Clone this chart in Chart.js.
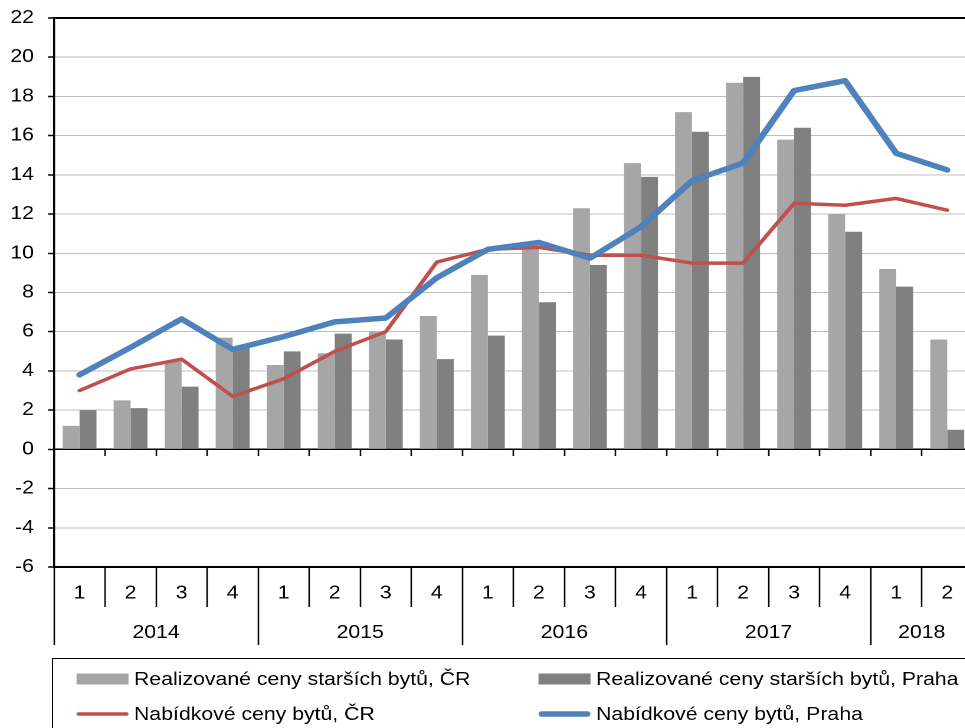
<!DOCTYPE html>
<html>
<head>
<meta charset="utf-8">
<script src="https://cdn.jsdelivr.net/npm/chart.js@4"></script>
<style>
html,body{margin:0;padding:0;overflow:hidden;background:#fff;width:965px;height:728px}
#wrap{position:absolute;left:0;top:0;height:728px;transform-origin:0 0}
</style>
</head>
<body>
<div id="wrap"><canvas id="c"></canvas></div>
<script>
// ---- data ----
const quarters = ['1','2','3','4','1','2','3','4','1','2','3','4','1','2','3','4','1','2'];
const quarterYears = ['2014','2014','2014','2014','2015','2015','2015','2015','2016','2016','2016','2016','2017','2017','2017','2017','2018','2018'];
const seriesNames = [
  'Realizované ceny starších bytů, ČR',
  'Realizované ceny starších bytů, Praha',
  'Nabídkové ceny bytů, ČR',
  'Nabídkové ceny bytů, Praha'
];
const realizedCR    = [1.2, 2.5, 4.5, 5.7, 4.3, 4.9, 6.0, 6.8, 8.9, 10.3, 12.3, 14.6, 17.2, 18.7, 15.8, 12.0, 9.2, 5.6];
const realizedPraha = [2.0, 2.1, 3.2, 5.2, 5.0, 5.9, 5.6, 4.6, 5.8, 7.5, 9.4, 13.9, 16.2, 19.0, 16.4, 11.1, 8.3, 1.0];
const offerCR       = [3.0, 4.1, 4.6, 2.7, 3.6, 5.0, 6.0, 9.55, 10.2, 10.3, 9.9, 9.9, 9.5, 9.5, 12.55, 12.45, 12.8, 12.2];
const offerPraha    = [3.8, 5.2, 6.65, 5.1, 5.75, 6.5, 6.7, 8.75, 10.2, 10.55, 9.75, 11.35, 13.7, 14.6, 18.3, 18.8, 15.1, 14.25];
const yMin = -6, yMax = 22, yStep = 2;

// ---- horizontal stretch of the whole figure (the reference is wider than tall in its glyphs) ----
const SX = 1.18;
const wrap = document.getElementById('wrap');
wrap.style.width = (976 / SX) + 'px';
wrap.style.transform = 'scaleX(' + SX + ')';

// ---- year grouping derived from the categories ----
const yearGroups = [];
quarterYears.forEach((y, i) => {
  const g = yearGroups[yearGroups.length - 1];
  if (g && g.year === y) g.last = i; else yearGroups.push({year: y, first: i, last: i});
});
const yearTickLabel = {};
const yearBoundary = {};
const yearTicks = [];
yearGroups.forEach((g, k) => {
  if (k === 0) { yearTicks.push(g.first - 0.5); yearBoundary[g.first - 0.5] = true; }
  const c = (g.first + g.last) / 2;
  yearTicks.push(c); yearTickLabel[c] = g.year;
  yearTicks.push(g.last + 0.5); yearBoundary[g.last + 0.5] = true;
});

const FONT = {family: '"Liberation Sans", Arial, sans-serif', size: 18};

const legendPlugin = {
  id: 'boxLegend',
  afterDraw(chart) {
    const ctx = chart.ctx;
    const L = {left: 52.5 / SX, top: 658.5, colX: [76.5 / SX, 538.5 / SX], rowY: [679, 714],
               sw: 52 / SX, sh: 11, gap: 5.5 / SX};
    ctx.save();
    ctx.strokeStyle = '#000';
    ctx.lineWidth = 1;
    ctx.strokeRect(L.left, L.top, 2000, 300);
    ctx.font = FONT.size + 'px ' + FONT.family;
    ctx.textBaseline = 'middle';
    ctx.textAlign = 'left';
    chart.data.datasets.forEach((ds, i) => {
      const x = L.colX[i % 2], y = L.rowY[Math.floor(i / 2)];
      if (ds.type === 'line') {
        ctx.strokeStyle = ds.borderColor;
        ctx.lineWidth = ds.borderWidth;
        ctx.lineCap = 'round';
        ctx.beginPath();
        ctx.moveTo(x + ds.borderWidth / 2, y);
        ctx.lineTo(x + L.sw - ds.borderWidth / 2, y);
        ctx.stroke();
      } else {
        ctx.fillStyle = ds.backgroundColor;
        ctx.fillRect(x, y - L.sh / 2, L.sw, L.sh);
      }
      ctx.fillStyle = '#000';
      ctx.fillText(ds.label, x + L.sw + L.gap, y + 1);
    });
    ctx.restore();
  }
};

new Chart(document.getElementById('c'), {
  data: {
    labels: quarters,
    datasets: [
      {type: 'bar', label: seriesNames[0], data: realizedCR, backgroundColor: '#A6A6A6', order: 3,
       barPercentage: 1.0, categoryPercentage: 0.664},
      {type: 'bar', label: seriesNames[1], data: realizedPraha, backgroundColor: '#808080', order: 3,
       barPercentage: 1.0, categoryPercentage: 0.664},
      {type: 'line', label: seriesNames[2], data: offerCR, borderColor: '#C0504D', borderWidth: 3.5,
       pointRadius: 0, tension: 0, borderCapStyle: 'round', borderJoinStyle: 'round', order: 2},
      {type: 'line', label: seriesNames[3], data: offerPraha, borderColor: '#4F81BD', borderWidth: 5.5,
       pointRadius: 0, tension: 0, borderCapStyle: 'round', borderJoinStyle: 'round', order: 1}
    ]
  },
  options: {
    responsive: true,
    maintainAspectRatio: false,
    animation: false,
    devicePixelRatio: 2,
    layout: {padding: {top: 18, bottom: 83, left: 0, right: 0}},
    plugins: {legend: {display: false}, tooltip: {enabled: false}},
    scales: {
      y: {
        type: 'linear', min: yMin, max: yMax,
        ticks: {stepSize: yStep, padding: 11.9, font: FONT, color: '#000'},
        grid: {
          color: c => c.tick && c.tick.value === yMax ? '#000' : '#BEBEBE',
          lineWidth: c => c.tick && c.tick.value === yMax ? 2 : 1,
          tickColor: '#000', tickLength: 6 / SX, tickWidth: 1.5
        },
        border: {color: '#000', width: 1.7},
        afterFit: s => { s.width = 54 / SX; s.paddingTop = 0; s.paddingBottom = 0; }
      },
      x: {
        type: 'category', position: 'bottom', weight: 1, offset: true,
        ticks: {padding: -24.5, font: FONT, color: '#000', maxRotation: 0, autoSkip: false},
        grid: {offset: true, drawOnChartArea: false, tickLength: 40, tickColor: '#000', tickWidth: 1.3},
        border: {color: '#000', width: 2},
        afterFit: s => { s.height = 40; }
      },
      x2: {
        type: 'linear', axis: 'x', position: 'bottom', weight: 2,
        min: -0.5, max: quarters.length - 0.5,
        afterBuildTicks: s => { s.ticks = yearTicks.map(v => ({value: v})); },
        ticks: {padding: -23, font: FONT, color: '#000', maxRotation: 0, autoSkip: false,
                callback: v => yearTickLabel[v] || ''},
        grid: {drawOnChartArea: false, tickLength: 38, tickWidth: 1.3,
               tickColor: c => (c.tick && yearBoundary[c.tick.value]) ? '#000' : 'rgba(0,0,0,0)'},
        border: {display: false},
        afterFit: s => { s.height = 38; }
      },
      x0: {
        type: 'category', axis: 'x', position: {y: 0}, offset: true,
        ticks: {display: false},
        grid: {offset: true, drawOnChartArea: false, tickLength: 6, tickColor: '#000', tickWidth: 1.3},
        border: {color: '#000', width: 1.5}
      }
    }
  },
  plugins: [legendPlugin]
});
</script>
</body>
</html>
